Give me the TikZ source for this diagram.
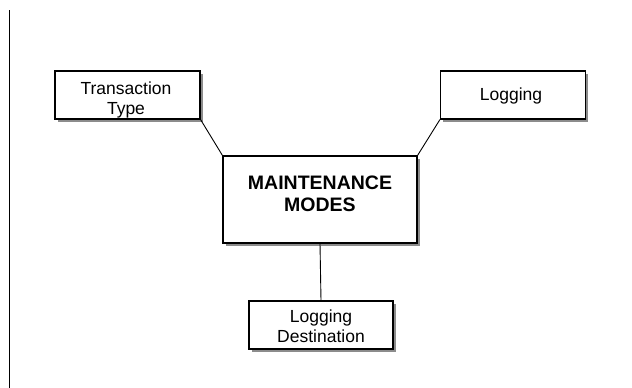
\documentclass[tikz,border=0pt]{standalone}
\usepackage{fontspec}
\setmainfont{Liberation Sans}
\usetikzlibrary{shadows}
\begin{document}
\begin{tikzpicture}[x=1pt,y=-1pt,
  box/.style={draw=black, line width=1.1pt, fill=white, rectangle, inner sep=0pt,
    drop shadow={shadow xshift=2.5pt, shadow yshift=-2.5pt, fill=black!45, opacity=1}},
  txt/.style={align=center, inner sep=0pt, font=\fontsize{17.5}{20}\selectfont},
  btxt/.style={align=center, inner sep=0pt, font=\fontsize{19.5}{22.5}\selectfont\bfseries},
  conn/.style={draw=black, line width=0.9pt}]
\useasboundingbox (0,0) rectangle (632,388);
\fill[white] (0,0) rectangle (632,388);
\coordinate (vtop) at (9,10);
\coordinate (vbot) at (9,388);
\draw[line width=1pt] (vtop) -- (vbot);
\node[box, minimum width=145pt, minimum height=48pt] (tt) at (127.5,95) {};
\node[box, minimum width=145pt, minimum height=48pt] (lg) at (513,95) {};
\node[box, minimum width=194pt, minimum height=87pt] (mm) at (320,199.5) {};
\node[box, minimum width=144pt, minimum height=48pt] (ld) at (321,325) {};
\draw[conn] (tt.south east) -- (mm.north west);
\draw[conn] (lg.south west) -- (mm.north east);
\draw[conn] (mm.south) -- (ld.north);
\node[txt, anchor=base] (ttt) at (126,114) {Transaction\\Type};
\node[txt, anchor=base] (lgt) at (511,100) {Logging};
\node[btxt, anchor=base] (mmt) at (320,211.5) {MAINTENANCE\\MODES};
\node[txt, anchor=base] (ldt) at (321,342.5) {Logging\\Destination};
\end{tikzpicture}
\end{document}
